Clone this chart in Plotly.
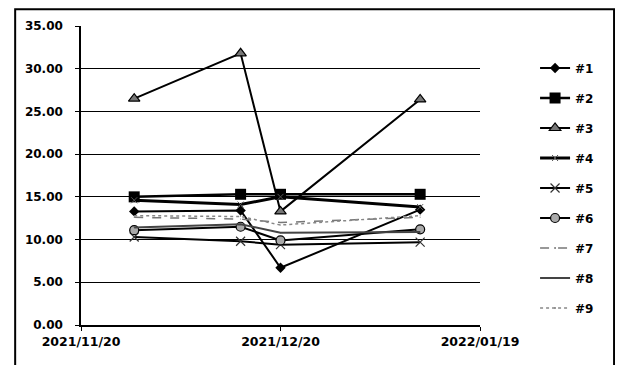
import plotly.graph_objects as go

dates = ["2021-11-28", "2021-12-14", "2021-12-20", "2022-01-10"]
series_names = ["#1", "#2", "#3", "#4", "#5", "#6", "#7", "#8", "#9"]
s1 = [13.3, 13.4, 6.7, 13.5]
s2 = [15.0, 15.3, 15.3, 15.3]
s3 = [26.5, 31.8, 13.3, 26.4]
s4 = [14.6, 14.1, 15.0, 13.8]
s5 = [10.3, 9.8, 9.4, 9.7]
s6 = [11.1, 11.5, 9.9, 11.2]
s7 = [12.6, 12.4, 12.0, 12.6]
s8 = [11.4, 11.8, 10.8, 10.9]
s9 = [12.8, 12.7, 11.7, 12.8]
x_tick_vals = ["2021-11-20", "2021-12-20", "2022-01-19"]
x_tick_text = ["2021/11/20", "2021/12/20", "2022/01/19"]

values = [s1, s2, s3, s4, s5, s6, s7, s8, s9]
styles = [
    dict(line=dict(color="black", width=2), marker=dict(symbol="diamond", size=8, color="black")),
    dict(line=dict(color="black", width=2.5), marker=dict(symbol="square", size=11, color="black")),
    dict(line=dict(color="black", width=2), marker=dict(symbol="triangle-up", size=10, color="#777", line=dict(color="black", width=1.2))),
    dict(line=dict(color="black", width=3), marker=dict(symbol="x-thin", size=6, color="#555", line=dict(color="#555", width=1))),
    dict(line=dict(color="black", width=2), marker=dict(symbol="x-thin", size=9, color="#333", line=dict(color="#333", width=1.2))),
    dict(line=dict(color="black", width=2), marker=dict(symbol="circle", size=9, color="#aaa", line=dict(color="black", width=1.2))),
    dict(line=dict(color="#777", width=1.5, dash="dash"), marker=dict(symbol="circle", size=1, color="#777")),
    dict(line=dict(color="#444", width=2), marker=dict(symbol="circle", size=1, color="#444")),
    dict(line=dict(color="#888", width=1.5, dash="dot"), marker=dict(symbol="circle", size=1, color="#888")),
]

fig = go.Figure()
for name, vals, st in zip(series_names, values, styles):
    fig.add_trace(go.Scatter(x=dates, y=vals, name=name, mode="lines+markers",
                             legendgroup=name, **st))

font = dict(family="DejaVu Sans", size=12, color="black", weight="bold")
fig.update_layout(
    width=615, height=357,
    margin=dict(l=73, r=143, t=18, b=40),
    paper_bgcolor="white", plot_bgcolor="white",
    font=font,
    showlegend=True,
    legend=dict(x=1.138, y=0.908, xanchor="left", yanchor="top",
                traceorder="grouped", tracegroupgap=11,
                font=dict(family="DejaVu Sans", size=12, color="black", weight="bold"),
                bgcolor="rgba(0,0,0,0)", itemwidth=30),
    xaxis=dict(type="date", range=["2021-11-20", "2022-01-19"],
               tickvals=x_tick_vals, ticktext=x_tick_text,
               tickfont=dict(family="DejaVu Sans", size=12.5, color="black", weight="bold"),
               showgrid=False, showline=True, linecolor="black", linewidth=1.5,
               ticks="outside", ticklen=4, tickcolor="black", zeroline=False),
    yaxis=dict(range=[0, 35], dtick=5, tickformat=".2f",
               showgrid=True, gridcolor="black", gridwidth=1.3,
               showline=True, linecolor="black", linewidth=1.5,
               ticks="outside", ticklen=4, tickcolor="black", zeroline=False,
               ticklabelstandoff=10),
    shapes=[dict(type="rect", xref="paper", yref="paper",
                 x0=-0.165, x1=1.336, y0=-0.2, y1=1.056,
                 line=dict(color="black", width=2), fillcolor="rgba(0,0,0,0)")],
)
fig.write_html("out.html")
